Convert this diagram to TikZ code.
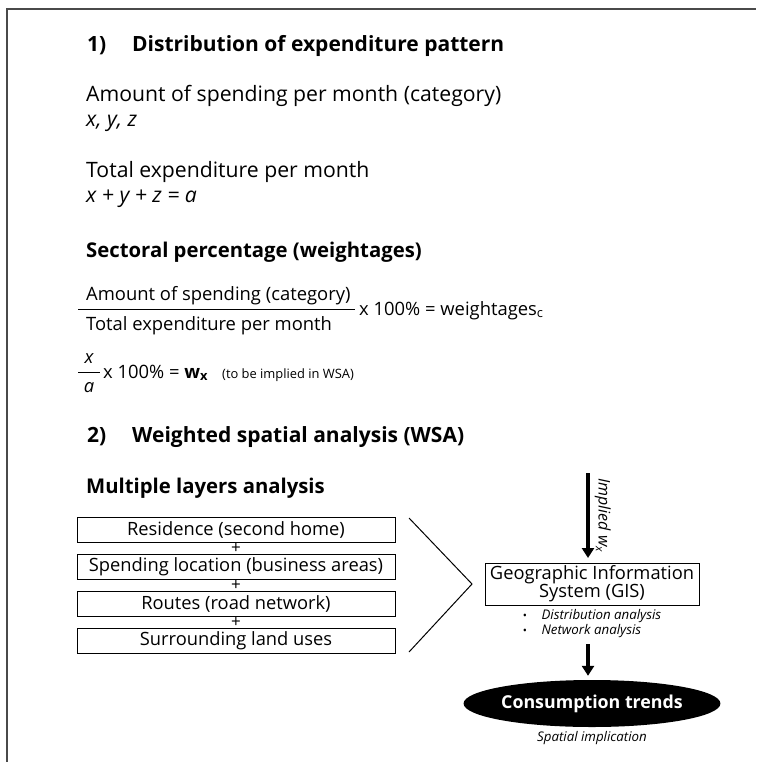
\documentclass[tikz,border=0pt]{standalone}
\usepackage{fontspec}
\setmainfont{Open Sans}
\usepackage{tikz}
\usetikzlibrary{arrows.meta,positioning,shapes.geometric,calc}
\usepackage{xcolor}
\definecolor{framegray}{HTML}{4A4A4A}

\tikzset{
  headtext/.style={anchor=base west, inner sep=0pt, font=\fontsize{21}{24}\selectfont\bfseries},
  subhead/.style={anchor=base west, inner sep=0pt, font=\fontsize{20.3}{24}\selectfont\bfseries},
  bodytext/.style={anchor=base west, inner sep=0pt, font=\fontsize{21.2}{24}\selectfont},
  fractext/.style={anchor=base west, inner sep=0pt, font=\fontsize{18.4}{21}\selectfont},
  layerbox/.style={draw, line width=0.9pt, minimum width=318pt, minimum height=25pt, inner sep=0pt, font=\fontsize{18.3}{20}\selectfont},
  plussign/.style={inner sep=0pt, font=\fontsize{17}{17}\selectfont},
  smallnote/.style={inner sep=0pt, font=\fontsize{13.3}{15}\selectfont\itshape},
  fatarrow/.style={line width=3.5pt, -{Triangle[length=10pt,width=12pt]}},
}

\begin{document}
\begin{tikzpicture}[x=1pt,y=-1pt]
\useasboundingbox (0,0) rectangle (756,762);
%%%FRAME
\draw[framegray, line width=2pt] (6.8,762) -- (6.8,9) -- (756,9);

%%%PART 1
\node[headtext] (num1) at (87,52) {1)};
\node[headtext] (title1) at (132,52) {Distribution of expenditure pattern};
\node[bodytext] (amount) at (86,101.5) {Amount of spending per month (category)};
\node[bodytext] (xyz) at (86,126.5) {\itshape x, y, z};
\node[bodytext] (total) at (86,177) {Total expenditure per month};
\node[bodytext] (sum) at (86,202.5) {\itshape x + y + z = a};
\node[subhead] (sectoral) at (86,257) {Sectoral percentage (weightages)};

%%%FRACTIONS
\node[fractext] (fracnum) at (86,300) {Amount of spending (category)};
\node[fractext] (fracden) at (86,330) {Total expenditure per month};
\draw[line width=0.8pt] (78,309) -- (355,309);
\node[fractext] (weight) at (359,315) {x 100\% = weightages\textsubscript{c}};
\node[fractext, anchor=base] (xnum) at (89,363) {\itshape x};
\node[fractext, anchor=base] (aden) at (89,392) {\itshape a};
\draw[line width=0.8pt] (78,372) -- (100,372);
\node[fractext] (wx) at (103,378) {x 100\% = \textbf{w}\textsubscript{\textbf{x}}};
\node[anchor=base west, inner sep=0pt, font=\fontsize{12.9}{14}\selectfont] (wsanote) at (222,378) {(to be implied in WSA)};

%%%PART 2
\node[headtext] (num2) at (87,442) {2)};
\node[headtext] (title2) at (132,442) {Weighted spatial analysis (WSA)};
\node[subhead] (multi) at (86,493) {Multiple layers analysis};

%%%LAYERS
\node[layerbox] (residence) at (236,529.5) {Residence (second home)};
\node[layerbox] (spending) at (236,567) {Spending location (business areas)};
\node[layerbox] (routes) at (236,604) {Routes (road network)};
\node[layerbox] (landuse) at (236,640.5) {Surrounding land uses};
\node[plussign] (plus1) at ($(residence.south)!0.5!(spending.north)$) {+};
\node[plussign] (plus2) at ($(spending.south)!0.5!(routes.north)$) {+};
\node[plussign] (plus3) at ($(routes.south)!0.5!(landuse.north)$) {+};
\draw[line width=1pt] (409,518) -- (472,584) -- (409,652);

%%%GIS
\node[draw, line width=0.9pt, minimum width=214pt, minimum height=42pt, inner sep=0pt, align=center,
      font=\fontsize{18.3}{18}\selectfont] (gis) at (592,584) {Geographic Information\\System (GIS)};
\node[smallnote, align=left, below=4pt of gis] (gisnotes)
  {{\upshape\fontsize{11}{11}\selectfont\textbullet}\hspace{1.1em}Distribution analysis\\{\upshape\fontsize{11}{11}\selectfont\textbullet}\hspace{1.1em}Network analysis};
\coordinate (wtop) at (588,473);
\draw[fatarrow] (wtop) -- (588,558)
  node[midway, anchor=south, rotate=-90, inner sep=5pt, font=\fontsize{16}{17}\selectfont\itshape] {Implied w\textsubscript{x}};

%%%TRENDS
\node[ellipse, fill=black, minimum width=211pt, minimum height=47pt, inner sep=0pt, text=white,
      font=\fontsize{17.8}{18}\selectfont\bfseries] (trends) at (592,703.5) {Consumption trends};
\node[smallnote, below=4pt of trends] (spatial) {Spatial implication};
\coordinate (notesfoot) at (588,644);
\draw[fatarrow] (notesfoot) -- (notesfoot |- trends.north) [shorten >=4pt];
\end{tikzpicture}
\end{document}
